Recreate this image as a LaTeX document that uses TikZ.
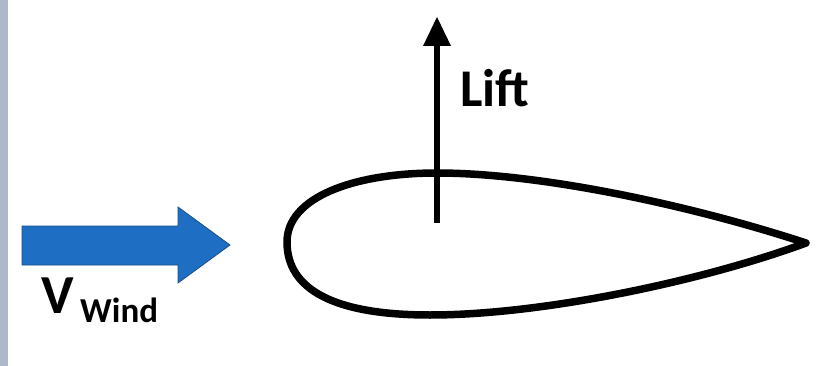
\documentclass[tikz,border=0pt]{standalone}
\usepackage{fontspec}
\setmainfont{Carlito}
\definecolor{sidegray}{HTML}{ADB8C8}
\definecolor{windblue}{HTML}{1E6EC3}
\definecolor{windedge}{HTML}{1A4F8A}
\tikzset{
  foil/.style={line width=7.5pt, line join=round},
  liftarrow/.style={line width=5.5pt},
  lbl/.style={inner sep=0pt, anchor=base west},
}
\begin{document}
\begin{tikzpicture}[x=1pt,y=-1pt]
\useasboundingbox (0,0) rectangle (826,366);
\fill[sidegray] (0,0) rectangle (8,366);
% wind arrow
\draw[windedge, fill=windblue, line width=0.8pt, line join=miter]
  (22,226) -- (178,226) -- (178,207) -- (230,245) -- (178,283) -- (178,265) -- (22,265) -- cycle;
\node[lbl] (v) at (41,313) {\fontsize{55}{55}\selectfont\bfseries V};
\node[lbl] (w) at (80,322) {\fontsize{35}{35}\selectfont\bfseries Wind};
% airfoil
\draw[foil] (287,242) .. controls (287,198) and (352,173) .. (437,173)
  .. controls (540,173) and (690,205) .. (806,243)
  .. controls (700,282) and (540,315) .. (430,315)
  .. controls (335,315) and (287,290) .. (287,242) -- cycle;
% lift
\coordinate (lb) at (437,223);
\coordinate (lt) at (437,46);
\draw[liftarrow] (lb) -- (lt);
\fill (lt) ++(-14,0) -- (437,17) -- (451,46) -- cycle;
\node[lbl] (lift) at (460,107) {\fontsize{53}{53}\selectfont\bfseries Lift};
\end{tikzpicture}
\end{document}
